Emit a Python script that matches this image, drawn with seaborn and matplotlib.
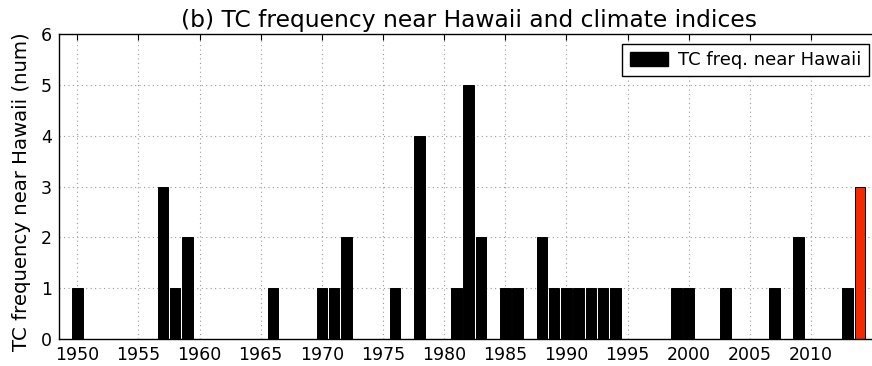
import matplotlib
matplotlib.use("Agg")
import matplotlib.pyplot as plt
from matplotlib.patches import Patch
import seaborn as sns
import pandas as pd

years = [1950, 1957, 1958, 1959, 1966, 1970, 1971, 1972, 1976, 1978,
         1981, 1982, 1983, 1985, 1986, 1988, 1989, 1990, 1991, 1992,
         1993, 1994, 1999, 2000, 2003, 2007, 2009, 2013, 2014]
counts = [1, 3, 1, 2, 1, 1, 1, 2, 1, 4,
          1, 5, 2, 1, 1, 2, 1, 1, 1, 1,
          1, 1, 1, 1, 1, 1, 2, 1, 3]
highlight_year = 2014
title = "(b) TC frequency near Hawaii and climate indices"
ylabel = "TC frequency near Hawaii (num)"
legend_label = "TC freq. near Hawaii"
xticks = [1950, 1955, 1960, 1965, 1970, 1975, 1980, 1985, 1990, 1995, 2000, 2005, 2010]
yticks = [0, 1, 2, 3, 4, 5, 6]

sns.set_style("white")
plt.rcParams['font.family'] = ['DejaVu Sans']
plt.rcParams['text.color'] = 'black'
plt.rcParams['axes.labelcolor'] = 'black'
plt.rcParams['xtick.color'] = 'black'
plt.rcParams['ytick.color'] = 'black'

df = pd.DataFrame({"year": years, "count": counts})
df["grp"] = ["hl" if y == highlight_year else "base" for y in years]

fig = plt.figure(figsize=(8.72, 3.66), dpi=100)
ax = fig.add_axes([59 / 872, 1 - 339 / 366, (878.2 - 59) / 872, (339 - 34) / 366])

sns.barplot(data=df, x="year", y="count", hue="grp", native_scale=True,
            palette={"base": "black", "hl": "#f52800"}, dodge=False,
            width=0.86, edgecolor="black", linewidth=0.7, legend=False,
            saturation=1, ax=ax)

ax.set_xlim(1948.5, 2015.5)
ax.set_ylim(0, 6)
ax.set_xticks(xticks)
ax.set_yticks(yticks)
ax.set_xticklabels([str(t) for t in xticks], fontsize=12.5)
ax.set_yticklabels([str(t) for t in yticks], fontsize=12.5)
ax.set_xlabel("")
ax.set_ylabel(ylabel, fontsize=14.2, color="black")
ax.yaxis.set_label_coords(-0.034, 0.482)
ax.set_title(title, fontsize=16.8, pad=5, color="black")

ax.grid(True, linestyle=(0, (1, 3)), color="#999999", linewidth=0.8)
ax.set_axisbelow(True)
ax.tick_params(direction="in", top=True, right=True, length=4, width=0.8, pad=5,
               colors="black")
for s in ax.spines.values():
    s.set_color("black")
    s.set_linewidth(1.0)

leg = ax.legend(handles=[Patch(facecolor="black", edgecolor="black", label=legend_label)],
                loc="upper right", bbox_to_anchor=(869 / 872, 1 - 44 / 366),
                bbox_transform=fig.transFigure, fontsize=13, frameon=True,
                fancybox=False, edgecolor="black", framealpha=1,
                borderaxespad=0, handlelength=2.1, handleheight=0.75,
                handletextpad=0.6, borderpad=0.4)
for t in leg.get_texts():
    t.set_color("black")

fig.savefig("out.png", dpi=100)
